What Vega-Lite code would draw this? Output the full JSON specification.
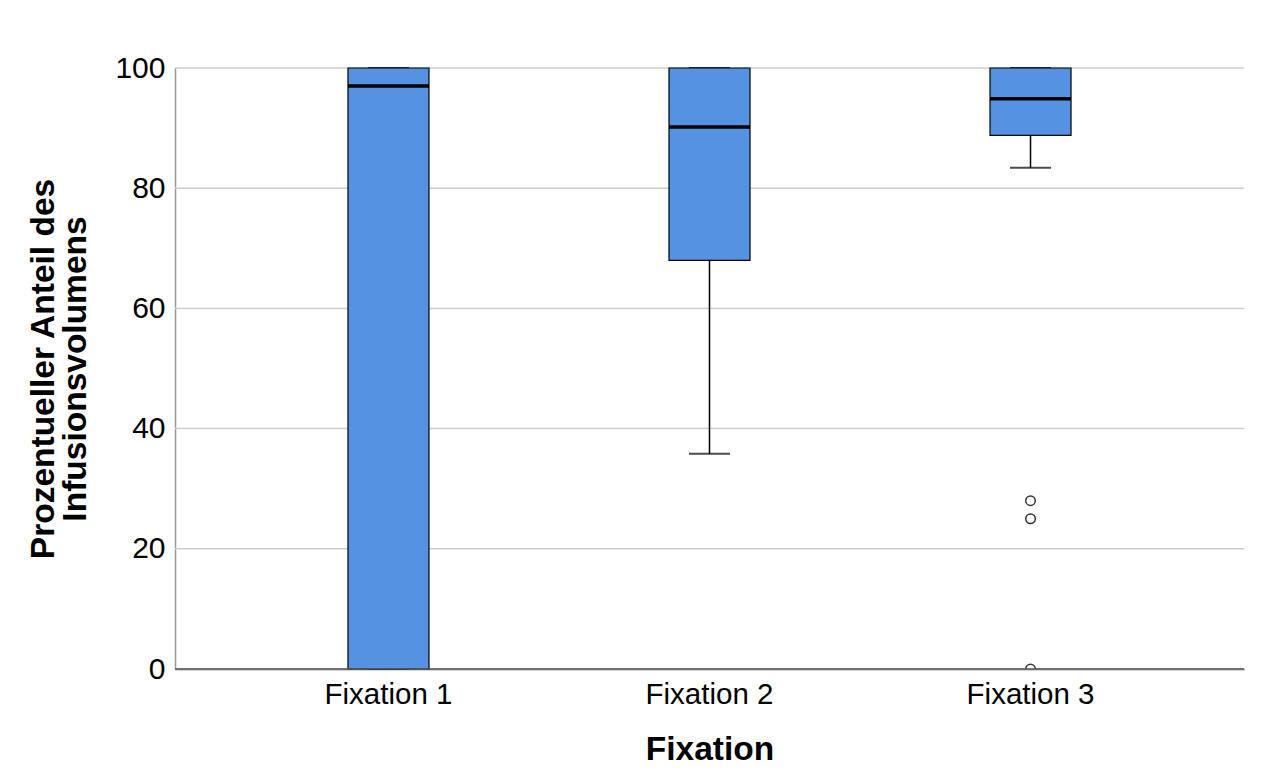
{
  "$schema": "https://vega.github.io/schema/vega-lite/v6.json",
  "width": 1069,
  "height": 601,
  "autosize": {"type": "none"},
  "padding": {"left": 175, "top": 68, "right": 25, "bottom": 104},
  "background": "white",
  "config": {
    "font": "Liberation Sans",
    "view": {"stroke": null},
    "axis": {"labelColor": "black", "titleColor": "black", "labelFont": "Liberation Sans", "titleFont": "Liberation Sans"}
  },
  "datasets": {
    "boxes": [
      {"Fixation": "Fixation 1", "lower": 0, "q1": 0, "median": 97, "q3": 100, "upper": 100},
      {"Fixation": "Fixation 2", "lower": 35.8, "q1": 68, "median": 90.2, "q3": 100, "upper": 100},
      {"Fixation": "Fixation 3", "lower": 83.4, "q1": 88.8, "median": 94.9, "q3": 100, "upper": 100}
    ],
    "outliers": [
      {"Fixation": "Fixation 3", "value": 28},
      {"Fixation": "Fixation 3", "value": 25},
      {"Fixation": "Fixation 3", "value": 0}
    ]
  },
  "encoding": {
    "x": {
      "field": "Fixation", "type": "nominal",
      "scale": {"domain": ["Fixation 1", "Fixation 2", "Fixation 3"], "paddingInner": 0, "paddingOuter": 0.165},
      "axis": {"title": "Fixation", "labelAngle": 0, "labelFontSize": 29.5, "titleFontSize": 33.5, "titleFontWeight": "bold", "labelPadding": 11, "titlePadding": 25, "ticks": false, "domainColor": "#555555", "domainWidth": 1.5, "grid": false}
    }
  },
  "layer": [
    {
      "data": {"values": [{"v": 0}, {"v": 20}, {"v": 40}, {"v": 60}, {"v": 80}, {"v": 100}]},
      "mark": {"type": "rule", "color": "#cccccc", "strokeWidth": 1.5},
      "encoding": {
        "x": null,
        "y": {
          "field": "v", "type": "quantitative",
          "scale": {"domain": [0, 100], "nice": false},
          "axis": {"title": ["Prozentueller Anteil des", "Infusionsvolumens"], "values": [0, 20, 40, 60, 80, 100], "labelFontSize": 30, "titleFontSize": 33.5, "titleFontWeight": "bold", "titleLineHeight": 32, "labelPadding": 10, "titlePadding": 22, "ticks": false, "domainColor": "#999999", "domainWidth": 1.5, "grid": false}
        }
      }
    },
    {
      "data": {"name": "boxes"},
      "mark": {"type": "rule", "color": "black", "strokeWidth": 1.5},
      "encoding": {"y": {"field": "lower", "type": "quantitative"}, "y2": {"field": "upper"}}
    },
    {
      "data": {"name": "boxes"},
      "mark": {"type": "tick", "color": "black", "size": 41, "thickness": 2, "orient": "horizontal"},
      "encoding": {"y": {"field": "lower", "type": "quantitative"}}
    },
    {
      "data": {"name": "boxes"},
      "mark": {"type": "tick", "color": "black", "size": 41, "thickness": 2, "orient": "horizontal"},
      "encoding": {"y": {"field": "upper", "type": "quantitative"}}
    },
    {
      "data": {"name": "boxes"},
      "mark": {"type": "bar", "fill": "#5592E2", "stroke": "black", "strokeWidth": 1.2, "width": 81},
      "encoding": {"y": {"field": "q1", "type": "quantitative"}, "y2": {"field": "q3"}}
    },
    {
      "data": {"name": "boxes"},
      "mark": {"type": "tick", "color": "black", "size": 81, "thickness": 3.5, "orient": "horizontal", "opacity": 1},
      "encoding": {"y": {"field": "median", "type": "quantitative"}}
    },
    {
      "data": {"name": "outliers"},
      "mark": {"type": "point", "shape": "circle", "size": 90, "filled": false, "fill": "white", "fillOpacity": 1, "stroke": "#333333", "strokeWidth": 1.5, "opacity": 1, "clip": true},
      "encoding": {"y": {"field": "value", "type": "quantitative"}}
    },
    {
      "data": {"values": [{"v": 0}]},
      "mark": {"type": "rule", "color": "#555555", "strokeWidth": 1.5},
      "encoding": {"x": null, "y": {"field": "v", "type": "quantitative"}}
    }
  ]
}
